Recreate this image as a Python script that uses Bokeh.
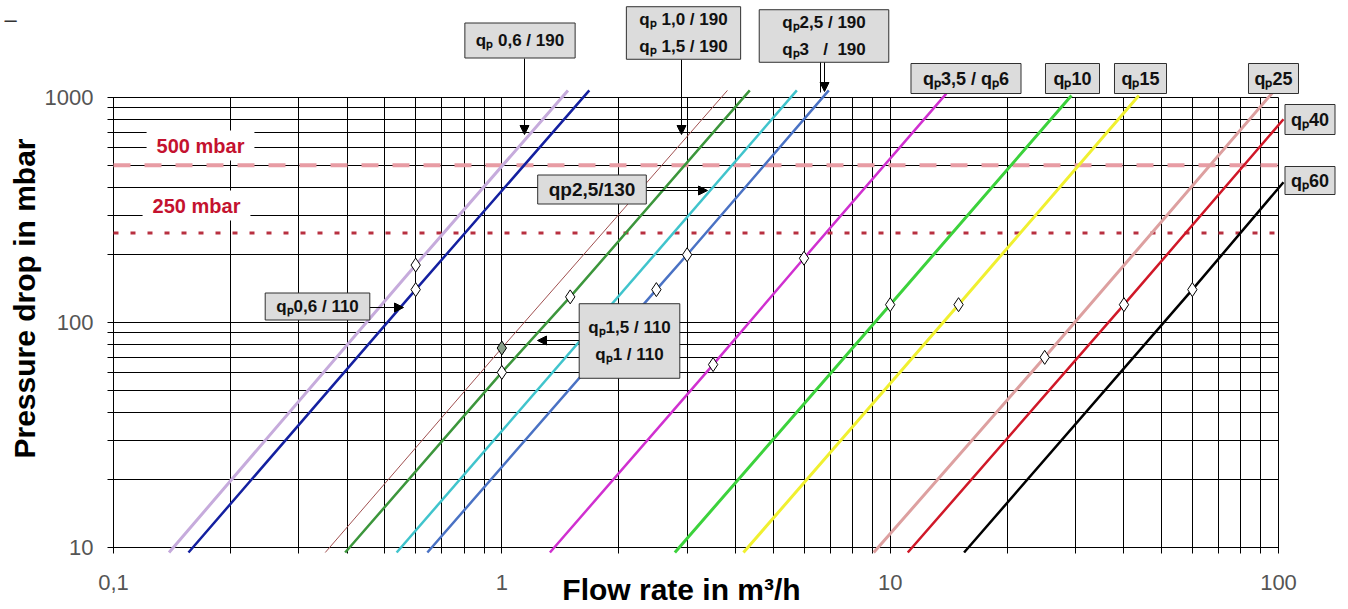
import math
from bokeh.plotting import figure
from bokeh.models import (Range1d, Label, Arrow, NormalHead,
                          CustomJSTickFormatter, FixedTicker)
from bokeh.embed import file_html
from bokeh.resources import INLINE

# ---------------- data ----------------
x_major = [0.1, 1, 10, 100]
x_tick_labels = ["0,1", "1", "10", "100"]
x_minor = [m * 10.0 ** e for e in (-1, 0, 1) for m in range(2, 10)]
y_major = [10, 100, 1000]
y_tick_labels = ["10", "100", "1000"]
y_minor = [m * 10.0 ** e for e in (1, 2) for m in range(2, 10)]

# flow rate (m3/h) and pressure drop (mbar) along each curve
q06_190_flow = [0.139, 0.60, 1.48]
q06_190_dp = [9.5, 180, 1075]
q06_110_flow = [0.156, 0.60, 1.68]
q06_110_dp = [9.5, 140, 1075]
q10_15_190_flow = [0.351, 1.0, 3.81]
q10_15_190_dp = [9.5, 77, 1075]
q10_15_110_flow = [0.395, 1.0, 1.5, 4.35]
q10_15_110_dp = [9.5, 60, 130, 1075]
q25_130_flow = [0.536, 5.75]
q25_130_dp = [9.5, 1075]
q25_3_190_flow = [0.643, 2.5, 3.0, 6.95]
q25_3_190_dp = [9.5, 140, 200, 1075]
q35_6_flow = [1.33, 3.5, 6.0, 13.95]
q35_6_dp = [9.5, 65, 193, 1040]
q10_flow = [2.79, 10, 29.3]
q10_dp = [9.5, 120, 1020]
q15_flow = [4.19, 15, 43.7]
q15_dp = [9.5, 120, 1020]
q25_flow = [9.07, 25, 96.5]
q25_dp = [9.5, 70, 1050]
q40_flow = [11.1, 40, 103]
q40_dp = [9.5, 120, 800]
q60_flow = [15.5, 60, 103]
q60_dp = [9.5, 140, 420]

# nominal points (diamonds)
marker_flow = [0.6, 0.6, 1.0, 1.0, 1.5, 2.5, 3.0, 3.5, 6.0, 10, 15, 25, 40, 60]
marker_dp = [180, 140, 77, 60, 130, 140, 200, 65, 193, 120, 120, 70, 120, 140]
marker_fill = ["white", "white", "#8aa08a", "white", "white", "white", "white",
               "white", "white", "white", "white", "white", "white", "white"]

limit_dp = [500, 250]
limit_labels = ["500 mbar", "250 mbar"]

series = [
    (q06_190_flow, q06_190_dp, "#c6abdc", 3),
    (q06_110_flow, q06_110_dp, "#1420a0", 2.5),
    (q10_15_190_flow, q10_15_190_dp, "#a05050", 1),
    (q10_15_110_flow, q10_15_110_dp, "#3c963c", 2.5),
    (q25_130_flow, q25_130_dp, "#40c4cc", 2.5),
    (q25_3_190_flow, q25_3_190_dp, "#4a72c4", 2.5),
    (q35_6_flow, q35_6_dp, "#d030d0", 2.5),
    (q10_flow, q10_dp, "#3cd23c", 3),
    (q15_flow, q15_dp, "#f0f030", 3),
    (q25_flow, q25_dp, "#dda0a0", 3),
    (q40_flow, q40_dp, "#d01828", 2.5),
    (q60_flow, q60_dp, "#000000", 2.5),
]

# ---------------- layout helpers (canvas pixel -> data) ----------------
W, H = 1340, 609
PX_LEFT, PX_RIGHT = 113, 1278     # pixel of x = 0.1 and x = 100
PY_TOP, PY_BOT = 97, 547          # pixel of y = 1000 and y = 10
DX = (PX_RIGHT - PX_LEFT) / 3.0
DY = (PY_BOT - PY_TOP) / 2.0

def fx(px):
    return 10 ** (-1 + (px - PX_LEFT) / DX)

def fy(py):
    return 10 ** (3 - (py - PY_TOP) / DY)

# ---------------- figure ----------------
p = figure(width=W, height=H, x_axis_type="log", y_axis_type="log",
           x_range=Range1d(fx(0), fx(W)), y_range=Range1d(fy(H), fy(0)),
           output_backend="svg", toolbar_location=None, min_border=0)
p.min_border_left = p.min_border_right = p.min_border_top = p.min_border_bottom = 0
p.background_fill_color = "white"
p.border_fill_color = "white"
p.outline_line_color = None
p.grid.visible = False

xt = FixedTicker(ticks=x_major, minor_ticks=x_minor)
yt = FixedTicker(ticks=y_major, minor_ticks=y_minor)
p.xaxis.ticker = xt
p.yaxis.ticker = yt

fmt_code = """
for (let i = 0; i < tv.length; i++) {
  if (Math.abs(Math.log10(tick) - Math.log10(tv[i])) < 1e-6) return tl[i];
}
return '';
"""
p.xaxis.formatter = CustomJSTickFormatter(args=dict(tv=x_major, tl=x_tick_labels), code=fmt_code)
p.yaxis.formatter = CustomJSTickFormatter(args=dict(tv=y_major, tl=y_tick_labels), code=fmt_code)

# axes placed on the chart box; their inward ticks form the grid
p.xaxis.fixed_location = y_major[0]
p.yaxis.fixed_location = x_major[0]
p.xaxis.bounds = (x_major[0], x_major[-1])
p.yaxis.bounds = (y_major[0], y_major[-1])
for ax in (p.xaxis, p.yaxis):
    ax.level = "underlay"
    ax.axis_line_color = "black"
    ax.major_tick_out = 6
    ax.minor_tick_out = 6
    ax.major_tick_line_color = "black"
    ax.minor_tick_line_color = "black"
    ax.major_tick_line_width = 1
    ax.minor_tick_line_width = 1
    ax.major_label_text_font = "Liberation Sans"
    ax.major_label_text_font_size = "22px"
    ax.major_label_text_color = "#555555"
p.xaxis.major_tick_in = PY_BOT - PY_TOP
p.xaxis.minor_tick_in = PY_BOT - PY_TOP
p.yaxis.major_tick_in = PX_RIGHT - PX_LEFT
p.yaxis.minor_tick_in = PX_RIGHT - PX_LEFT
p.xaxis.major_label_standoff = 21
p.yaxis.major_label_standoff = 14

# limit lines
p.line([x_major[0], x_major[-1]], [limit_dp[0], limit_dp[0]], line_color="#e89ca4",
       line_width=4, line_dash="17 14")
p.line([x_major[0], x_major[-1]], [limit_dp[1], limit_dp[1]], line_color="#b83040",
       line_width=3, line_dash="5 12")

for fl, dp, col, lw in series:
    p.line(fl, dp, line_color=col, line_width=lw)

p.scatter(marker_flow, marker_dp, marker="diamond", size=14,
          fill_color=marker_fill, line_color="black", line_width=1)

# ---------------- annotations ----------------
def set_pad(lab, px_, py_):
    try:
        lab.padding = (px_, py_)
    except Exception:
        lab.padding = py_

def box(cx, cy, text, size, padx, pady, lh=1.2):
    lab = Label(x=fx(cx), y=fy(cy), text=text, text_align="center",
                text_baseline="middle", text_font="Liberation Sans",
                text_font_style="bold", text_font_size=f"{size}px",
                text_color="#111111", text_line_height=lh,
                background_fill_color="#dcdcdc", background_fill_alpha=1,
                border_line_color="#303030", border_line_width=1)
    set_pad(lab, padx, pady)
    p.add_layout(lab)

def arrow(x0, y0, x1, y1, head=True):
    a = Arrow(x_start=fx(x0), y_start=fy(y0), x_end=fx(x1), y_end=fy(y1),
              line_color="black", line_width=1,
              end=NormalHead(size=9, fill_color="black", line_color="black") if head else None)
    p.add_layout(a)

for txt, (cx, cy) in zip(limit_labels, [(200, 145), (196, 205)]):
    lab = Label(x=fx(cx), y=fy(cy), text=txt, text_align="center", text_baseline="middle",
                text_font="Liberation Sans", text_font_style="bold", text_font_size="20px",
                text_color="#c4122f", background_fill_color="white", background_fill_alpha=1)
    set_pad(lab, 10, 4)
    p.add_layout(lab)

arrow(524, 58, 524, 134)
arrow(681, 59, 681, 134)
arrow(820, 61, 820, 92, head=False)
arrow(824, 61, 824, 91)
arrow(645, 190, 707, 190)
arrow(369, 307, 403, 307)
arrow(579, 340, 537, 340)

NB = "\u00a0"
box(519.5, 40, "qₚ 0,6 / 190", 17, 11, 8)
box(683, 32.5, "qₚ 1,0 / 190\nqₚ 1,5 / 190", 17, 13, 3, 1.45)
box(823.5, 35.5, "qₚ2,5 / 190\nqₚ3" + NB * 3 + "/" + NB * 2 + "190", 17, 23, 3, 1.45)
box(591.5, 189, "qp2,5/130", 19, 11, 4)
box(317, 306, "qₚ0,6 / 110", 17, 11, 4)
box(629, 340.5, "qₚ1,5 / 110\nqₚ1 / 110", 17, 9, 14, 1.45)
box(965.5, 78, "qₚ3,5 / qₚ6", 18, 12, 5)
box(1072, 78, "qₚ10", 18, 8, 5)
box(1140, 78, "qₚ15", 18, 7, 5)
box(1273, 78, "qₚ25", 18, 6, 5)
box(1309.5, 119, "qₚ40", 18, 6, 5)
box(1309.5, 180, "qₚ60", 18, 6, 4)

# axis titles
p.add_layout(Label(x=fx(24), y=fy(298), text="Pressure drop in mbar", angle=math.pi / 2,
                   text_align="center", text_baseline="middle",
                   text_font="Liberation Sans", text_font_style="bold",
                   text_font_size="30px", text_color="black"))
p.add_layout(Label(x=fx(681), y=fy(589), text="Flow rate in m³/h",
                   text_align="center", text_baseline="middle",
                   text_font="Liberation Sans", text_font_style="bold",
                   text_font_size="30px", text_color="black"))
p.add_layout(Label(x=fx(10), y=fy(19), text="–", text_align="center",
                   text_baseline="middle", text_font="Liberation Sans",
                   text_font_size="22px", text_color="#333333"))

open("out.html", "w").write(file_html(p, INLINE))
